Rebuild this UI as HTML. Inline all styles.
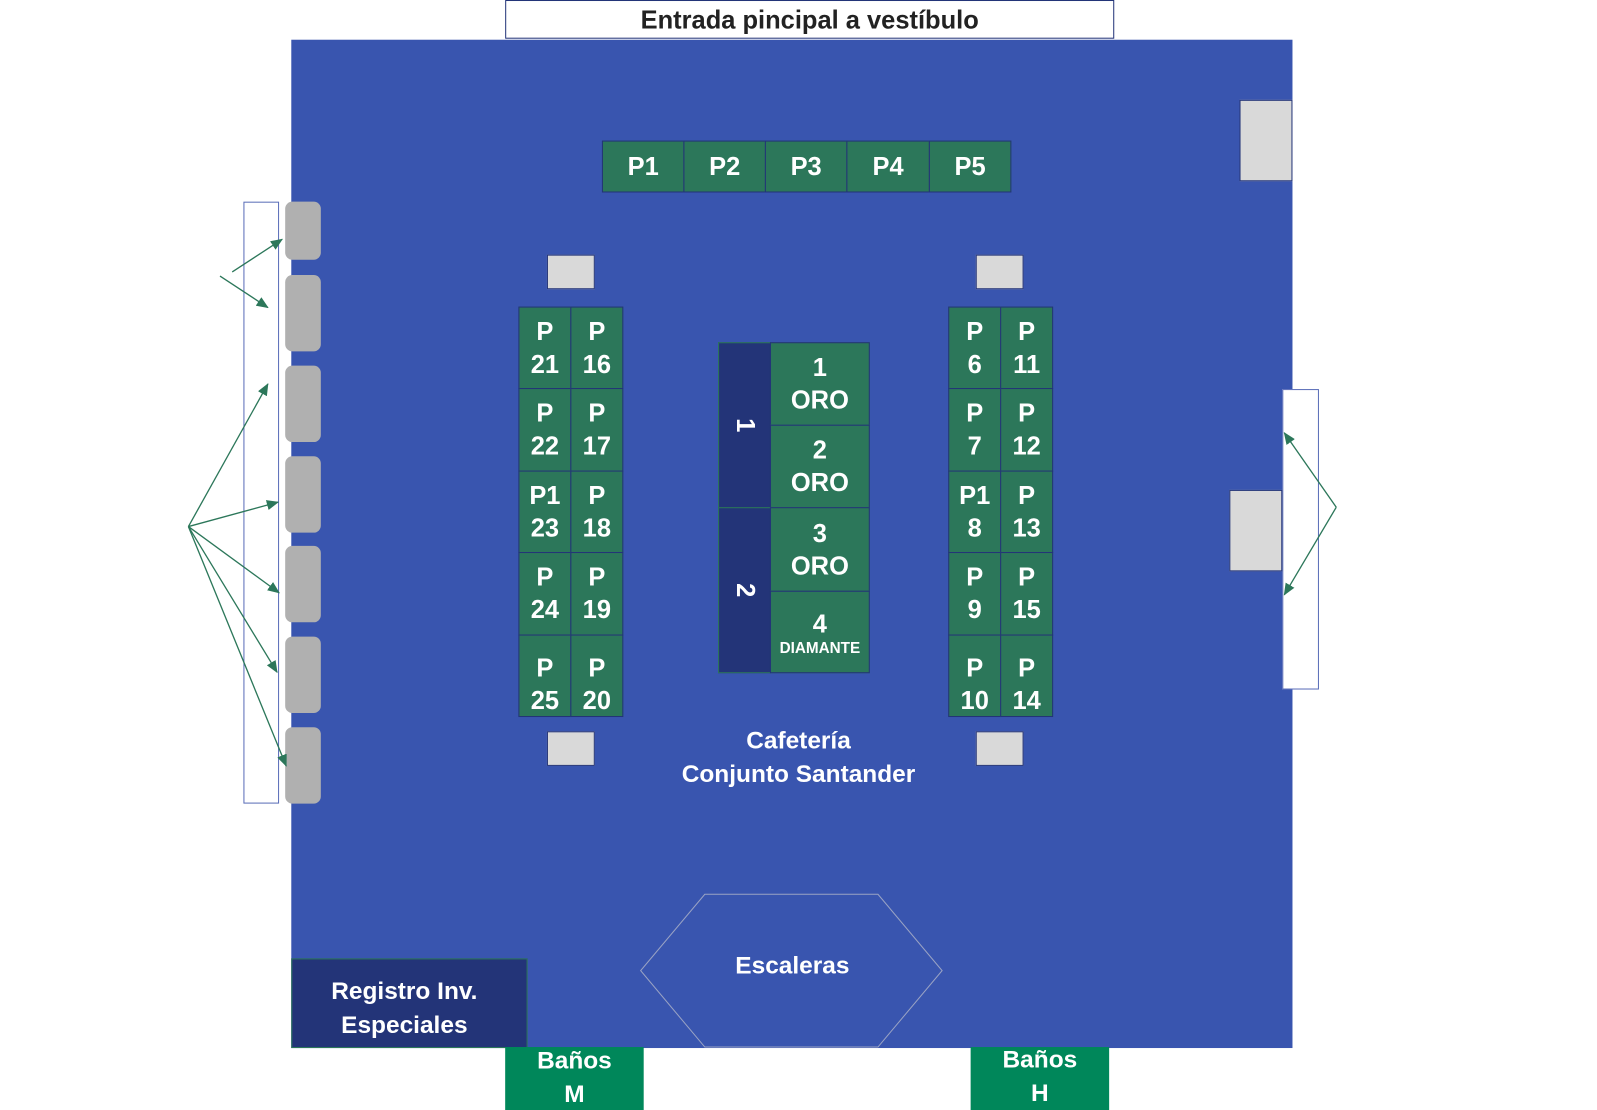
<!DOCTYPE html>
<html><head><meta charset="utf-8"><style>
*{margin:0;padding:0;box-sizing:border-box}
body{width:1597px;height:1110px;background:#fff;position:relative;overflow:hidden;font-family:"Liberation Sans",sans-serif;font-weight:bold}
#w{position:absolute;left:0;top:0;width:1568px;height:1090px;transform:scale(1.0185);transform-origin:0 0}
.a{position:absolute}
.g{position:absolute;background:#2C775A;border:1px solid #233478;color:#fff;display:flex;flex-direction:column;align-items:center;justify-content:center;font-size:25px;line-height:32px;text-align:center}
.lg{position:absolute;background:#D9D9D9;border:1px solid #233478}
.gr{position:absolute;background:#B0B0B0;border-radius:7px;left:280px;width:35px}
.t{position:absolute;color:#fff;text-align:center}
</style></head><body><div id="w">
<div class="a" style="left:496px;top:0;width:598px;height:38px;border:1px solid #233478;font-size:25px;color:#222;text-align:center;line-height:38px">Entrada pincipal a vestíbulo</div>
<div class="a" style="left:286px;top:39px;width:983px;height:990px;background:#3955AF"></div>

<div class="g" style="left:591px;top:138px;width:81px;height:51px">P1</div>
<div class="g" style="left:671px;top:138px;width:81px;height:51px">P2</div>
<div class="g" style="left:751px;top:138px;width:81px;height:51px">P3</div>
<div class="g" style="left:831px;top:138px;width:82px;height:51px">P4</div>
<div class="g" style="left:912px;top:138px;width:81px;height:51px">P5</div>

<div class="lg" style="left:1217px;top:98px;width:52px;height:80px"></div>
<div class="lg" style="left:537px;top:250px;width:47px;height:34px"></div>
<div class="lg" style="left:958px;top:250px;width:47px;height:34px"></div>
<div class="lg" style="left:537px;top:718px;width:47px;height:34px"></div>
<div class="lg" style="left:958px;top:718px;width:47px;height:34px"></div>

<div class="g" style="left:509px;top:301px;width:52px;height:81px">P<br>21</div>
<div class="g" style="left:560px;top:301px;width:52px;height:81px">P<br>16</div>
<div class="g" style="left:509px;top:381px;width:52px;height:82px">P<br>22</div>
<div class="g" style="left:560px;top:381px;width:52px;height:82px">P<br>17</div>
<div class="g" style="left:509px;top:462px;width:52px;height:81px">P1<br>23</div>
<div class="g" style="left:560px;top:462px;width:52px;height:81px">P<br>18</div>
<div class="g" style="left:509px;top:542px;width:52px;height:82px">P<br>24</div>
<div class="g" style="left:560px;top:542px;width:52px;height:82px">P<br>19</div>
<div class="g" style="left:509px;top:623px;width:52px;height:81px;padding-top:16px">P<br>25</div>
<div class="g" style="left:560px;top:623px;width:52px;height:81px;padding-top:16px">P<br>20</div>
<div class="g" style="left:931px;top:301px;width:52px;height:81px">P<br>6</div>
<div class="g" style="left:982px;top:301px;width:52px;height:81px">P<br>11</div>
<div class="g" style="left:931px;top:381px;width:52px;height:82px">P<br>7</div>
<div class="g" style="left:982px;top:381px;width:52px;height:82px">P<br>12</div>
<div class="g" style="left:931px;top:462px;width:52px;height:81px">P1<br>8</div>
<div class="g" style="left:982px;top:462px;width:52px;height:81px">P<br>13</div>
<div class="g" style="left:931px;top:542px;width:52px;height:82px">P<br>9</div>
<div class="g" style="left:982px;top:542px;width:52px;height:82px">P<br>15</div>
<div class="g" style="left:931px;top:623px;width:52px;height:81px;padding-top:16px">P<br>10</div>
<div class="g" style="left:982px;top:623px;width:52px;height:81px;padding-top:16px">P<br>14</div>

<div class="a" style="left:705px;top:336px;width:52px;height:163px;background:#233478;border:1px solid #2C775A;color:#fff;font-size:25px;display:flex;align-items:center;justify-content:center"><span style="transform:rotate(90deg)">1</span></div>
<div class="a" style="left:705px;top:498px;width:52px;height:163px;background:#233478;border:1px solid #2C775A;color:#fff;font-size:25px;display:flex;align-items:center;justify-content:center"><span style="transform:rotate(90deg)">2</span></div>
<div class="g" style="left:756px;top:336px;width:98px;height:82px">1<br>ORO</div>
<div class="g" style="left:756px;top:417px;width:98px;height:82px">2<br>ORO</div>
<div class="g" style="left:756px;top:498px;width:98px;height:83px">3<br>ORO</div>
<div class="g" style="left:756px;top:580px;width:98px;height:81px"><span>4</span><span style="font-size:15px;line-height:16px">DIAMANTE</span></div>

<div class="t" style="left:600px;top:711px;width:368px;font-size:24px;line-height:33px">Cafetería<br>Conjunto Santander</div>

<div class="a" style="left:239px;top:198px;width:35px;height:591px;border:1px solid #5a6db8"></div>
<div class="gr" style="top:198px;height:57px"></div>
<div class="gr" style="top:270px;height:75px"></div>
<div class="gr" style="top:359px;height:75px"></div>
<div class="gr" style="top:448px;height:75px"></div>
<div class="gr" style="top:536px;height:75px"></div>
<div class="gr" style="top:625px;height:75px"></div>
<div class="gr" style="top:714px;height:75px"></div>

<div class="a" style="left:1259px;top:382px;width:36px;height:295px;border:1px solid #5a6db8;background:#fff"></div>
<div class="lg" style="left:1207px;top:481px;width:52px;height:80px"></div>

<div class="a" style="left:286px;top:941px;width:232px;height:88px;background:#233478;border:1px solid #2C775A"></div>
<div class="t" style="left:286px;top:957px;width:222px;font-size:24px;line-height:33px">Registro Inv.<br>Especiales</div>

<div class="a" style="left:496px;top:1028px;width:136px;height:62px;background:#00875A;overflow:hidden"><div class="t" style="left:0;top:-3px;width:136px;font-size:24px;line-height:33px">Baños<br>M</div></div>
<div class="a" style="left:953px;top:1028px;width:136px;height:62px;background:#00875A;overflow:hidden"><div class="t" style="left:0;top:-4px;width:136px;font-size:24px;line-height:33px">Baños<br>H</div></div>

<svg class="a" style="left:0;top:0" width="1568" height="1090">
<defs><marker id="m" markerWidth="12" markerHeight="10" refX="11" refY="5" orient="auto" markerUnits="userSpaceOnUse"><path d="M0,0 L12,5 L0,10 z" fill="#2C775A"/></marker></defs>
<polygon points="692,878 862,878 925,953 862,1028 692,1028 629,953" fill="none" stroke="#9aa3c4" stroke-width="1"/>
<g stroke="#2C775A" stroke-width="1.3" fill="none" marker-end="url(#m)">
<line x1="228" y1="267" x2="277" y2="235"/>
<line x1="216" y1="271" x2="263" y2="302"/>
<line x1="185" y1="517" x2="263" y2="377"/>
<line x1="185" y1="517" x2="273" y2="493"/>
<line x1="185" y1="517" x2="274" y2="582"/>
<line x1="185" y1="517" x2="272" y2="660"/>
<line x1="185" y1="517" x2="281" y2="752"/>
<line x1="1312" y1="498" x2="1261" y2="425"/>
<line x1="1312" y1="498" x2="1261" y2="584"/>
</g>
</svg>
<div class="t" style="left:690px;top:935px;width:176px;font-size:24px">Escaleras</div>
</div></body></html>
